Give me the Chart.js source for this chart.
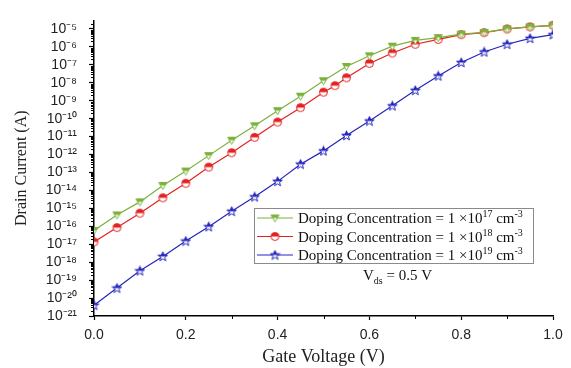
<!DOCTYPE html>
<html>
<head>
<meta charset="utf-8">
<script src="https://cdn.jsdelivr.net/npm/chart.js@4.4.0/dist/chart.umd.min.js"></script>
<style>
    html, body { margin: 0; padding: 0; background: #fff; }
    #wrap { width: 571px; height: 368px; position: relative; }
</style>
</head>
<body>
<div id="wrap"><canvas id="idChart"></canvas></div>
<script>
// Gate voltage sweep (V)
const gateVoltage = [0, 0.05, 0.1, 0.15, 0.2, 0.25, 0.3, 0.35, 0.4, 0.45, 0.5,
    0.55, 0.6, 0.65, 0.7, 0.75, 0.8, 0.85, 0.9, 0.95, 1.0];
// the 1e18 curve has one extra point at 0.525 V
const gateVoltage1e18 = [0, 0.05, 0.1, 0.15, 0.2, 0.25, 0.3, 0.35, 0.4, 0.45, 0.5, 0.525,
    0.55, 0.6, 0.65, 0.7, 0.75, 0.8, 0.85, 0.9, 0.95, 1.0];

// Drain current (A)
const current1e17 = [5.9e-17, 4.3e-16, 2.3e-15, 1.9e-14, 1.2e-13, 8.7e-13, 6.3e-12, 4.0e-11, 2.8e-10, 1.8e-9, 1.3e-8,
    8.1e-8, 3.2e-7, 1.1e-6, 2.3e-6, 3.3e-6, 5.2e-6, 6.4e-6, 1.0e-5, 1.3e-5, 1.6e-5];
const current1e18 = [1.35e-17, 8.5e-17, 5.4e-16, 3.9e-15, 2.5e-14, 2.0e-13, 1.26e-12, 9.1e-12, 6.5e-11, 4.1e-10, 3.0e-9, 6.9e-9,
    1.9e-8, 1.2e-7, 4.6e-7, 1.4e-6, 2.6e-6, 4.8e-6, 6.2e-6, 1.0e-5, 1.3e-5, 1.6e-5];
const current1e19 = [4.0e-21, 3.6e-20, 3.3e-19, 2.1e-18, 1.5e-17, 9.5e-17, 6.9e-16, 4.4e-15, 3.2e-14, 2.9e-13, 1.6e-12,
    1.15e-11, 7.4e-11, 5.2e-10, 3.8e-9, 2.4e-8, 1.35e-7, 5.2e-7, 1.4e-6, 3.0e-6, 4.8e-6];

const dopingExponents = ['17', '18', '19'];
const xTicks = [0, 0.2, 0.4, 0.6, 0.8, 1.0];
const xTickLabels = ['0.0', '0.2', '0.4', '0.6', '0.8', '1.0'];
const xMinorTicks = [0.1, 0.3, 0.5, 0.7, 0.9];
const yExponents = [-21, -20, -19, -18, -17, -16, -15, -14, -13, -12, -11, -10, -9, -8, -7, -6, -5];
const yTickLabels = ['10⁻²¹', '10⁻²⁰', '10⁻¹⁹', '10⁻¹⁸', '10⁻¹⁷', '10⁻¹⁶', '10⁻¹⁵', '10⁻¹⁴', '10⁻¹³',
    '10⁻¹²', '10⁻¹¹', '10⁻¹⁰', '10⁻⁹', '10⁻⁸', '10⁻⁷', '10⁻⁶', '10⁻⁵'];

const serif = "'Liberation Serif', 'Times New Roman', serif";
const sans = "'Liberation Sans', Arial, sans-serif";

// half filled markers like the origin plot
function makeMarker(shape, color) {
    const c = document.createElement('canvas');
    c.width = 11; c.height = 11;
    const g = c.getContext('2d');
    g.beginPath();
    if (shape === 'circle') {
        g.arc(5.5, 5.5, 4, 0, Math.PI * 2);
    } else if (shape === 'triangle') {
        g.moveTo(1.5, 2.5); g.lineTo(9.5, 2.5); g.lineTo(5.5, 9.5); g.closePath();
    } else {
        for (let k = 0; k < 10; k++) {
            const r = k % 2 === 0 ? 5 : 2.1;
            const a = -Math.PI / 2 + k * Math.PI / 5;
            const px = 5.5 + r * Math.cos(a), py = 5.8 + r * Math.sin(a);
            if (k === 0) g.moveTo(px, py); else g.lineTo(px, py);
        }
        g.closePath();
    }
    g.fillStyle = '#fff';
    g.fill();
    g.save();
    g.clip();
    g.fillStyle = color;
    g.fillRect(0, 0, 11, 5.5);
    g.restore();
    g.strokeStyle = color;
    g.lineWidth = 1;
    g.stroke();
    return c;
}

const green = 'rgb(122,178,58)';
const red = 'rgb(228,32,32)';
const blue = 'rgb(36,36,190)';

function toPoints(xs, ys) {
    return xs.map((x, i) => ({ x: x, y: ys[i] }));
}

// draw text pieces with super/subscripts
function drawRich(ctx, parts, x, y, size) {
    ctx.textBaseline = 'alphabetic';
    ctx.textAlign = 'left';
    parts.forEach(p => {
        const s = p.sup || p.sub ? Math.round(size * 0.65) : size;
        ctx.font = s + 'px ' + serif;
        const dy = p.sup ? -size * 0.4 : (p.sub ? size * 0.25 : 0);
        ctx.fillText(p.t, x, y + dy);
        x += ctx.measureText(p.t).width;
    });
}

const boxLegend = {
    id: 'boxLegend',
    afterDraw(chart) {
        const ctx = chart.ctx;
        ctx.save();
        // minor ticks
        const ys = chart.scales.y, xs = chart.scales.x;
        const area = chart.chartArea;
        ctx.strokeStyle = '#000';
        ctx.lineWidth = 1;
        ctx.beginPath();
        for (let e = -21; e <= -5; e++) {
            for (let m = 2; m <= 9; m++) {
                const v = m * Math.pow(10, e);
                if (v > ys.max) break;
                const py = Math.round(ys.getPixelForValue(v)) + 0.5;
                ctx.moveTo(area.left - 3, py);
                ctx.lineTo(area.left, py);
            }
        }
        xMinorTicks.forEach(v => {
            const px = Math.round(xs.getPixelForValue(v)) + 0.5;
            ctx.moveTo(px, area.bottom);
            ctx.lineTo(px, area.bottom + 3);
        });
        ctx.stroke();

        // legend box
        const L = 254, T = 208, W = 279, H = 55;
        ctx.fillStyle = '#fff';
        ctx.fillRect(L, T, W, H);
        ctx.strokeStyle = '#8a8a8a';
        ctx.strokeRect(L + 0.5, T + 0.5, W, H);
        chart.data.datasets.forEach((ds, i) => {
            const cy = T + 10 + i * 18.5;
            ctx.strokeStyle = ds.borderColor;
            ctx.lineWidth = 1.2;
            ctx.beginPath();
            ctx.moveTo(L + 3, cy);
            ctx.lineTo(L + 39, cy);
            ctx.stroke();
            const img = ds.pointStyle;
            ctx.drawImage(img, L + 21 - img.width / 2, cy - img.height / 2);
            ctx.fillStyle = '#111';
            drawRich(ctx, [
                { t: 'Doping Concentration = 1 ×10' },
                { t: dopingExponents[i], sup: true },
                { t: ' cm' },
                { t: '-3', sup: true }
            ], L + 44, cy + 5, 15);
        });
        ctx.fillStyle = '#111';
        drawRich(ctx, [{ t: 'V' }, { t: 'ds', sub: true }, { t: ' = 0.5 V' }], 363, 280, 15);
        ctx.restore();
    }
};

const ctx = document.getElementById('idChart').getContext('2d');
const chart = new Chart(ctx, {
    type: 'line',
    data: {
        datasets: [{
            label: 'Doping Concentration = 1 ×10¹⁷ cm⁻³',
            data: toPoints(gateVoltage, current1e17),
            borderColor: green,
            pointStyle: makeMarker('triangle', green)
        }, {
            label: 'Doping Concentration = 1 ×10¹⁸ cm⁻³',
            data: toPoints(gateVoltage1e18, current1e18),
            borderColor: red,
            pointStyle: makeMarker('circle', red)
        }, {
            label: 'Doping Concentration = 1 ×10¹⁹ cm⁻³',
            data: toPoints(gateVoltage, current1e19),
            borderColor: blue,
            pointStyle: makeMarker('star', blue)
        }]
    },
    options: {
        responsive: true,
        maintainAspectRatio: false,
        animation: false,
        datasets: {
            line: { borderWidth: 1.2, tension: 0, fill: false }
        },
        layout: { padding: { top: 8, right: 18, left: 0, bottom: 0 } },
        plugins: {
            legend: { display: false },
            tooltip: { enabled: false }
        },
        scales: {
            x: {
                type: 'linear',
                min: 0,
                max: 1,
                afterBuildTicks: function (scale) {
                    scale.ticks = xTicks.map(v => ({ value: v }));
                },
                afterFit: function (scale) { scale.height = 52; },
                ticks: {
                    autoSkip: false,
                    maxRotation: 0,
                    padding: 7,
                    color: '#222',
                    font: { family: sans, size: 14 },
                    callback: function (value, index) { return xTickLabels[index]; }
                },
                grid: { drawOnChartArea: false, tickLength: 4, color: '#000', tickWidth: 1.2 },
                border: { color: '#000', width: 1.5 },
                title: {
                    display: true,
                    text: 'Gate Voltage (V)',
                    color: '#222',
                    font: { family: serif, size: 18 },
                    padding: { top: 0, bottom: 0 }
                }
            },
            y: {
                type: 'logarithmic',
                min: 1e-21,
                max: 3e-5,
                bounds: 'data',
                afterBuildTicks: function (scale) {
                    scale.ticks = yExponents.map(e => ({ value: Math.pow(10, e) }));
                },
                afterFit: function (scale) { scale.width = 94; },
                ticks: {
                    autoSkip: false,
                    padding: 12,
                    color: '#222',
                    font: { family: sans, size: 14 },
                    callback: function (value, index) { return yTickLabels[index]; }
                },
                grid: { drawOnChartArea: false, tickLength: 5, color: '#000', tickWidth: 1.2 },
                border: { color: '#000', width: 1.5 },
                title: {
                    display: true,
                    text: 'Drain Current (A)',
                    color: '#222',
                    font: { family: serif, size: 16 },
                    padding: { top: 12, bottom: 0 }
                }
            }
        }
    },
    plugins: [boxLegend]
});
</script>
</body>
</html>
